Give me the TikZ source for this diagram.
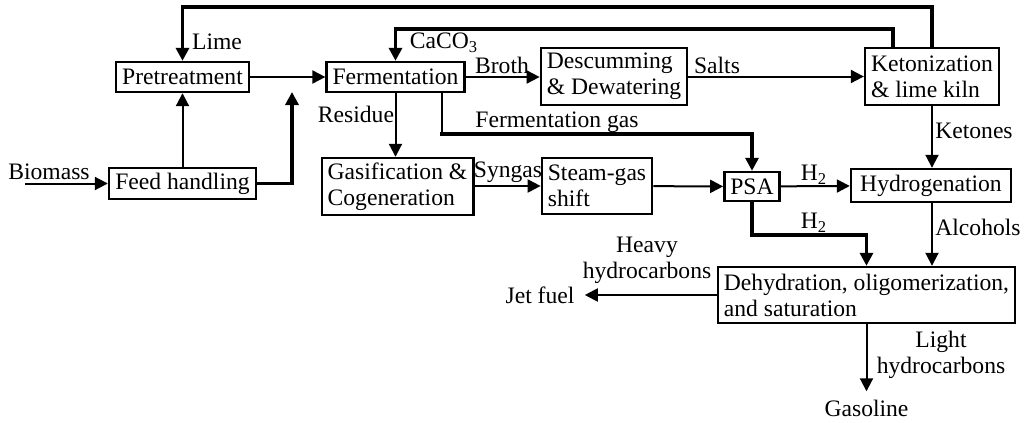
\documentclass[tikz,border=0pt]{standalone}
\usepackage{fontspec}
\setmainfont{Liberation Serif}
\usetikzlibrary{arrows.meta}
\begin{document}
\begin{tikzpicture}[x=0.5pt,y=-0.5pt,
  font=\fontsize{11.8}{13}\selectfont,
  box/.style={draw, line width=1.2pt, inner xsep=3pt, inner ysep=0pt, align=left},
  lbl/.style={inner sep=1pt, align=center},
  tn/.style={line width=1pt, -{Triangle[length=6.5pt,width=6.5pt]}},
  thk/.style={line width=1.9pt, -{Triangle[length=6.5pt,width=6.5pt]}},
  thkline/.style={line width=1.9pt}]
\useasboundingbox (0,0) rectangle (1035,423);

% boxes
\node[box, minimum width=65.5pt, minimum height=15pt] (pre) at (182.5,77) {Pretreatment};
\node[box, minimum width=67.5pt, minimum height=15pt] (ferm) at (395.5,77) {Fermentation};
\node[box, minimum width=73.5pt, minimum height=15.5pt] (feed) at (182.5,183.5) {Feed handling};
\node[box, minimum width=75.5pt, minimum height=28.5pt] (gas) at (397.5,186.5) {Gasification \&\\Cogeneration};
\node[box, minimum width=71pt, minimum height=28.5pt] (desc) at (614,76.5) {Descumming\\\& Dewatering};
\node[box, minimum width=65pt, minimum height=28.5pt] (ket) at (932,76.5) {Ketonization\\\& lime kiln};
\node[box, minimum width=54pt, minimum height=28pt] (steam) at (597,186) {Steam-gas\\shift};
\node[box, minimum width=27pt, minimum height=14.5pt] (psa) at (752,186.5) {PSA};
\node[box, minimum width=80pt, minimum height=16.5pt] (hyd) at (931,185.5) {Hydrogenation};
\node[box, minimum width=144.5pt, minimum height=28pt] (dehy) at (866.5,295) {Dehydration, oligomerization,\\and saturation};

% labels
\node[lbl] (lime) at (217,42) {Lime};
\node[lbl] (caco) at (444,43) {CaCO\textsubscript{3}};
\node[lbl] (broth) at (502,65) {Broth};
\node[lbl] (salts) at (717,65) {Salts};
\node[lbl] (residue) at (356,114) {Residue};
\node[lbl] (fgas) at (557,122) {Fermentation gas};
\node[lbl] (syngas) at (508,172) {Syngas};
\node[lbl] (h2a) at (814,175) {H\textsubscript{2}};
\node[lbl] (h2b) at (814,223) {H\textsubscript{2}};
\node[lbl] (ketones) at (974,131) {Ketones};
\node[lbl] (alcohols) at (978,227) {Alcohols};
\node[lbl] (heavy) at (647,260) {Heavy\\hydrocarbons};
\node[lbl] (light) at (941,355) {Light\\hydrocarbons};
\node[lbl, inner xsep=5pt] (jet) at (540,295) {Jet fuel};
\node[lbl, inner ysep=4pt] (gasoline) at (866.5,408) {Gasoline};
\node[lbl] (biomass) at (49,172) {Biomass};

\coordinate (bio) at (25,183.5);
\coordinate (fhend) at (292,92);

% connectors
\draw[thk] (ket.north) -- ++(0,-40) -| (pre.north);
\draw[thk] ([xshift=-19.5pt]ket.north) -- ++(0,-18) -| (ferm.north);
\draw[tn] (pre) -- (ferm);
\draw[thk] (feed.east) -| (fhend);
\draw[tn] (feed) -- (pre);
\draw[tn] (bio) -- (feed.west);
\draw[tn] (ferm.east) -- (desc.west |- ferm.east);
\draw[tn] (desc.east) -- (ket.west);
\draw[tn] (ferm.south) -- (ferm.south |- gas.north);
\draw[line width=1pt] ([xshift=23.25pt]ferm.south) coordinate (fs) -- ++(0,41) coordinate (fc);
\draw[thk] ([xshift=-1pt]fc) -| (psa.north);
\draw[tn] (gas.east |- steam.west) -- (steam.west);
\draw[tn] (steam) -- (psa);
\draw[tn] (psa) -- (hyd);
\draw[tn] (ket.south) -- (ket.south |- hyd.north);
\draw[thk] (psa.south) -- ++(0,33) -| (dehy.north);
\draw[tn] ([xshift=0.5pt]hyd.south) -- ([xshift=0.5pt]hyd.south |- dehy.north);
\draw[tn] (dehy.west) -- (jet.east);
\draw[tn] (dehy.south) -- (gasoline.north);
\end{tikzpicture}
\end{document}
